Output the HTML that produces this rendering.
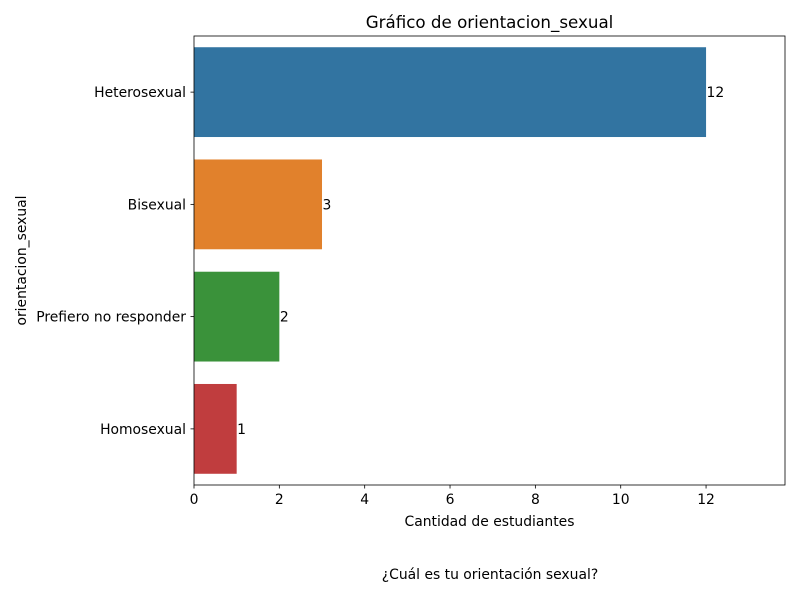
<!DOCTYPE html>
<html><head><meta charset="utf-8"><style>
body{margin:0;background:#fff;}
svg{display:block;font-family:"DejaVu Sans","Liberation Sans",sans-serif;}
</style></head><body>
<svg id="chart" width="800" height="600" viewBox="0 0 800 600">
<text x="489.5" y="28" font-size="16.7" text-anchor="middle">Gráfico de orientacion_sexual</text>
<g id="bars"></g>
<g id="ticks"></g>
<rect x="194" y="36" width="591" height="449" fill="none" stroke="#000" stroke-width="0.8"/>
<text x="489.5" y="526" font-size="13.9" text-anchor="middle">Cantidad de estudiantes</text>
<text transform="translate(26,260.5) rotate(-90)" font-size="13.9" text-anchor="middle">orientacion_sexual</text>
<text x="490" y="579" font-size="13.9" text-anchor="middle">¿Cuál es tu orientación sexual?</text>
</svg>
<script>
const categories=["Heterosexual","Bisexual","Prefiero no responder","Homosexual"];
const values=[12,3,2,1];
const colors=["#3274a1","#e1812c","#3a923a","#c03d3e"];
const xTicks=[0,2,4,6,8,10,12];
const L=194,R=785,T=36,B=485,XMAX=13.85;
const ns="http://www.w3.org/2000/svg";
const x=v=>L+v/XMAX*(R-L);
const band=(B-T)/categories.length;
const yc=i=>T+band*(i+0.5);
function mk(tag,attrs,parent,text){const e=document.createElementNS(ns,tag);for(const k in attrs)e.setAttribute(k,attrs[k]);if(text!==undefined)e.textContent=text;parent.appendChild(e);return e;}
const gb=document.getElementById('bars'),gt=document.getElementById('ticks');
categories.forEach((c,i)=>{
  const h=band*0.8;
  const r=mk('rect',{x:L,y:yc(i)-h/2,width:x(values[i])-L,height:h,fill:colors[i]},gb);
  
  
  const t=mk('text',{x:x(values[i])+0.5,y:yc(i)+5,'font-size':13.9},gb,String(values[i]));
  
  
  const tk=mk('line',{x1:L-3.5,x2:L,y1:yc(i),y2:yc(i),stroke:'#000','stroke-width':0.8},gt);
  
  
  const tl=mk('text',{x:L-8,y:yc(i)+5,'font-size':13.9,'text-anchor':'end'},gt,c);
  
  
});
xTicks.forEach(v=>{
  const tk=mk('line',{x1:x(v),x2:x(v),y1:B,y2:B+3.5,stroke:'#000','stroke-width':0.8},gt);
  
  
  const tl=mk('text',{x:x(v),y:B+19,'font-size':13.9,'text-anchor':'middle'},gt,String(v));
  
  
});
</script>
</body></html>
